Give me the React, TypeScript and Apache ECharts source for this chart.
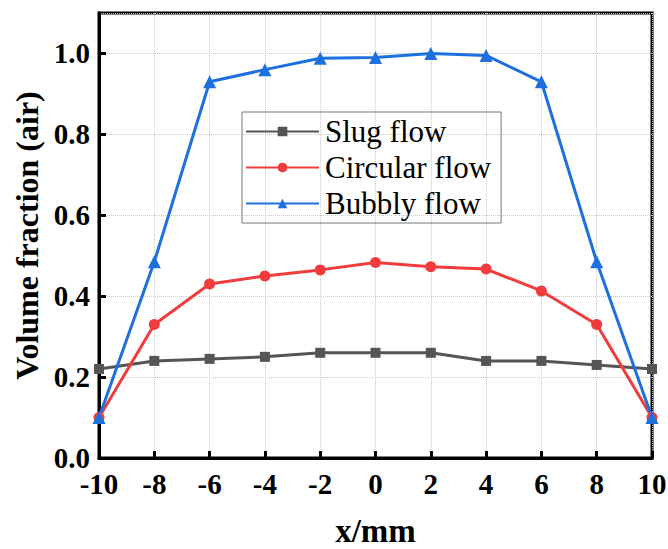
import React, { useEffect, useRef } from "react";
import * as echarts from "echarts";

const xValues = [-10, -8, -6, -4, -2, 0, 2, 4, 6, 8, 10];
const slugFlow = [0.22, 0.24, 0.245, 0.25, 0.26, 0.26, 0.26, 0.24, 0.24, 0.23, 0.22];
const circularFlow = [0.1, 0.33, 0.43, 0.45, 0.465, 0.483, 0.473, 0.467, 0.413, 0.33, 0.1];
const bubblyFlow = [0.1, 0.485, 0.93, 0.96, 0.988, 0.99, 1.0, 0.995, 0.93, 0.485, 0.1];
const seriesNames = ["Slug flow", "Circular flow", "Bubbly flow"];

const FONT = "Liberation Serif";

export default function App() {
  const ref = useRef<HTMLDivElement>(null);
  useEffect(() => {
    if (!ref.current) return;
    const chart = echarts.init(ref.current, undefined, { renderer: "svg" });
    const mk = (arr: number[]) => arr.map((v, i) => [xValues[i], v]);
    chart.setOption({
      animation: false,
      backgroundColor: "#fff",
      grid: {
        left: 99,
        right: 16,
        top: 13,
        bottom: 91,
        show: true,
        containLabel: false,
        outerBoundsMode: "none",
        borderColor: "#000",
        borderWidth: 3,
        backgroundColor: "transparent",
      },
      legend: {
        orient: "vertical",
        left: 242,
        top: 112,
        width: 257,
        padding: [4, 10, 4, 3],
        itemGap: 5,
        itemWidth: 73,
        itemHeight: 12,
        borderColor: "#777",
        borderWidth: 1,
        textStyle: { fontFamily: FONT, fontSize: 31, color: "#000", padding: [0, 0, 0, 1] },
        data: seriesNames,
      },
      xAxis: {
        type: "value",
        min: -10,
        max: 10,
        interval: 2,
        name: "x/mm",
        nameLocation: "middle",
        nameGap: 56,
        nameTextStyle: { fontFamily: FONT, fontSize: 33, fontWeight: "bold", color: "#000" },
        axisLine: { show: true, onZero: false, lineStyle: { color: "#000", width: 3 } },
        axisTick: { show: true, inside: true, length: 7, lineStyle: { color: "#000", width: 3 } },
        axisLabel: { fontFamily: FONT, fontSize: 29, fontWeight: "bold", color: "#000", margin: 11 },
        splitLine: { show: true, lineStyle: { type: "dotted", color: "#c8c8c8", width: 1 } },
      },
      yAxis: {
        type: "value",
        min: 0,
        max: 1.1,
        interval: 0.2,
        name: "Volume fraction (air)",
        nameLocation: "middle",
        nameGap: 55,
        nameTextStyle: { fontFamily: FONT, fontSize: 32, fontWeight: "bold", color: "#000" },
        axisLine: { show: true, onZero: false, lineStyle: { color: "#000", width: 3 } },
        axisTick: { show: true, inside: true, length: 7, lineStyle: { color: "#000", width: 3 } },
        axisLabel: {
          fontFamily: FONT,
          fontSize: 29,
          fontWeight: "bold",
          color: "#000",
          margin: 9,
          showMaxLabel: false,
          formatter: (v: number) => v.toFixed(1),
        },
        splitLine: { show: true, lineStyle: { type: "dotted", color: "#c8c8c8", width: 1 } },
      },
      series: [
        {
          name: seriesNames[0],
          type: "line",
          data: mk(slugFlow),
          symbol: "rect",
          symbolSize: 10,
          lineStyle: { width: 3, color: "#555555" },
          itemStyle: { color: "#555555" },
        },
        {
          name: seriesNames[1],
          type: "line",
          data: mk(circularFlow),
          symbol: "circle",
          symbolSize: 11,
          lineStyle: { width: 3, color: "#f03c3c" },
          itemStyle: { color: "#f03c3c" },
        },
        {
          name: seriesNames[2],
          type: "line",
          data: mk(bubblyFlow),
          symbol: "triangle",
          symbolSize: 13,
          lineStyle: { width: 3, color: "#1e6fe0" },
          itemStyle: { color: "#1e6fe0" },
        },
      ],
    });
    return () => chart.dispose();
  }, []);
  return <div ref={ref} style={{ width: 668, height: 549, position: "absolute", left: 0, top: 0 }} />;
}
